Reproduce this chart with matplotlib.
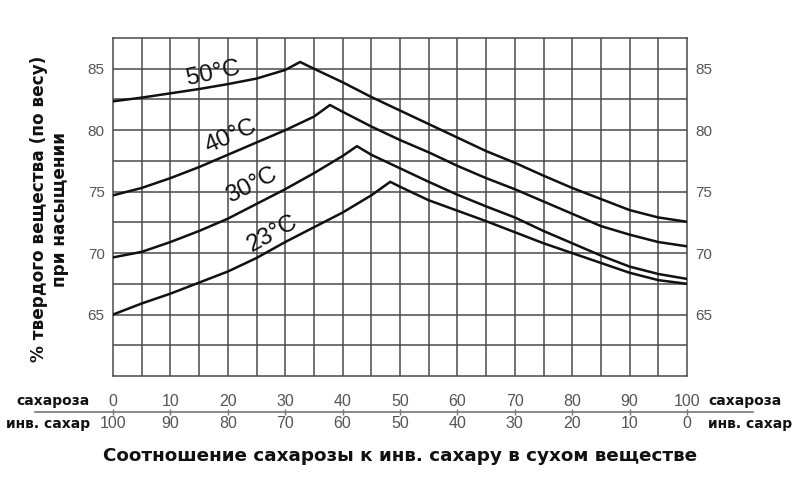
import matplotlib
matplotlib.use("Agg")
import matplotlib.pyplot as plt
import matplotlib.transforms as mtransforms

# ---- data
x50 = [0, 5, 10, 15, 20, 25, 30, 32.6, 35, 40, 45, 50, 55, 60, 65, 70, 75, 80, 85, 90, 95, 100]
y50 = [82.35, 82.65, 83.0, 83.35, 83.75, 84.2, 84.9, 85.55, 85.0, 83.9, 82.7, 81.6, 80.5, 79.4, 78.3, 77.35, 76.3, 75.3, 74.4, 73.5, 72.9, 72.55]

x40 = [0, 5, 10, 15, 20, 25, 30, 35, 37.8, 40, 45, 50, 55, 60, 65, 70, 75, 80, 85, 90, 95, 100]
y40 = [74.7, 75.3, 76.1, 77.0, 78.0, 79.0, 80.0, 81.1, 82.05, 81.5, 80.3, 79.2, 78.2, 77.1, 76.1, 75.2, 74.2, 73.2, 72.2, 71.5, 70.9, 70.55]

x30 = [0, 5, 10, 15, 20, 25, 30, 35, 40, 42.5, 45, 50, 55, 60, 65, 70, 75, 80, 85, 90, 95, 100]
y30 = [69.65, 70.1, 70.9, 71.8, 72.8, 74.0, 75.2, 76.5, 77.9, 78.7, 78.0, 76.9, 75.8, 74.75, 73.8, 72.9, 71.8, 70.8, 69.8, 68.9, 68.3, 67.9]

x23 = [0, 5, 10, 15, 20, 25, 30, 35, 40, 45, 48.3, 50, 55, 60, 65, 70, 75, 80, 85, 90, 95, 100]
y23 = [65.0, 65.9, 66.7, 67.6, 68.5, 69.6, 70.9, 72.1, 73.3, 74.7, 75.8, 75.4, 74.3, 73.45, 72.6, 71.7, 70.8, 70.0, 69.2, 68.4, 67.8, 67.5]

curves = [(x50, y50), (x40, y40), (x30, y30), (x23, y23)]
curve_labels = ["50°C", "40°C", "30°C", "23°C"]
label_x = [17.5, 20.6, 24.2, 27.8]
label_y = [84.6, 79.45, 75.55, 71.55]
label_rot = [12, 24, 27, 29]

y_ticks = [65, 70, 75, 80, 85]
sucrose = [0, 10, 20, 30, 40, 50, 60, 70, 80, 90, 100]
invert = [100 - v for v in sucrose]

grid_col = "#4a4a4a"
num_col = "#555555"
num_font = "Liberation Sans"

fig = plt.figure(figsize=(8, 4.95), dpi=100)
ax = fig.add_axes([0.14125, 0.2404, 0.7175, 0.6828])

ax.set_xlim(0, 100)
ax.set_ylim(60, 87.5)

# grid
for gx in range(5, 100, 5):
    ax.axvline(gx, color=grid_col, lw=1.1, zorder=1)
for gy in [62.5, 65, 67.5, 70, 72.5, 75, 77.5, 80, 82.5, 85]:
    ax.axhline(gy, color=grid_col, lw=1.1, zorder=1)
for sp in ax.spines.values():
    sp.set_color(grid_col)
    sp.set_linewidth(1.1)

# curves
for (cx, cy) in curves:
    ax.plot(cx, cy, color="#111111", lw=1.8, zorder=3)

for lab, lx, ly, rot in zip(curve_labels, label_x, label_y, label_rot):
    ax.text(lx, ly, lab, rotation=rot, ha="center", va="center",
            fontsize=17.5, family=num_font, color="#111111", zorder=4)

# y ticks on both sides
ax.set_xticks([])
ax.set_yticks(y_ticks)
ax.tick_params(axis="y", length=0, pad=6, labelsize=11, labelcolor=num_col,
               left=True, right=True, labelleft=True, labelright=True)
for t in ax.get_yticklabels():
    t.set_family(num_font)

# bottom double scale
trans = mtransforms.blended_transform_factory(ax.transData, ax.transAxes)
ax.plot([-13.6, 111.5], [-0.1065, -0.1065], color="#777777", lw=1.2,
        transform=trans, clip_on=False)
ax.plot(sucrose, [-0.1065] * len(sucrose), ls="none", marker="|", ms=5,
        color="#777777", transform=trans, clip_on=False)
for s, iv in zip(sucrose, invert):
    ax.text(s, -0.074, str(s), ha="center", va="center", fontsize=11.5,
            family=num_font, color=num_col, transform=trans)
    ax.text(s, -0.142, str(iv), ha="center", va="center", fontsize=11.5,
            family=num_font, color=num_col, transform=trans)

side_kw = dict(va="center", fontsize=10, fontweight="bold", color="#111111",
               transform=trans)
ax.text(-4.0, -0.074, "сахароза", ha="right", **side_kw)
ax.text(-4.0, -0.142, "инв. сахар", ha="right", **side_kw)
ax.text(103.7, -0.074, "сахароза", ha="left", **side_kw)
ax.text(103.7, -0.142, "инв. сахар", ha="left", **side_kw)

ax.text(50, -0.237, "Соотношение сахарозы к инв. сахару в сухом веществе",
        ha="center", va="center", fontsize=13.2, fontweight="bold",
        color="#111111", transform=trans)

ax.text(-0.11, 0.494, "% твердого вещества (по весу)\nпри насыщении",
        rotation=90, ha="center", va="center", fontsize=12.2,
        fontweight="bold", color="#111111", linespacing=1.2,
        transform=ax.transAxes, multialignment="center")

fig.savefig("out.png", dpi=100)
